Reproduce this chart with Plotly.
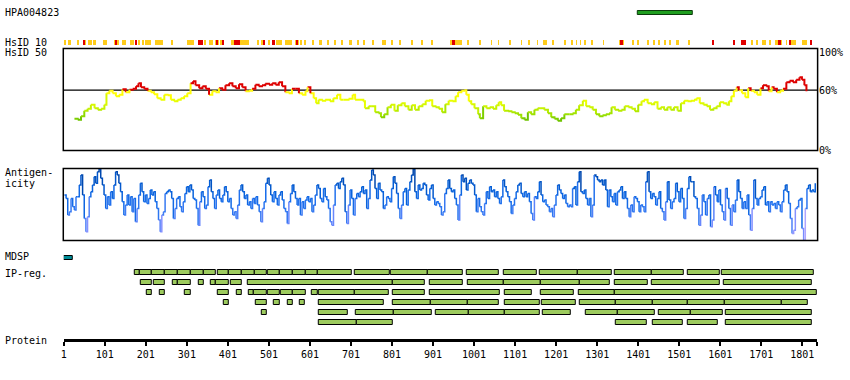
import plotly.graph_objects as go
import numpy as np

W, H = 850, 380
protein_length = 1837
tick_vals = [1, 101, 201, 301, 401, 501, 601, 701, 801, 901, 1001, 1101, 1201, 1301, 1401, 1501, 1601, 1701, 1801]

# HsID 50 : % identity (sliding window)
hsid50_pos = [
    27, 35, 43, 51, 59, 67, 76, 84, 92, 100,
    105, 112, 120, 128, 136, 144, 152, 161, 169, 177,
    183, 189, 197, 205, 213, 221, 229, 237, 246, 254,
    262, 270, 278, 286, 294, 302, 310, 316, 322, 331,
    339, 347, 355, 363, 371, 379, 387, 395, 404, 412,
    420, 428, 436, 444, 452, 460, 468, 476, 484, 492,
    501, 509, 517, 525, 533, 541, 549, 557, 565, 574,
    582, 590, 595, 602, 610, 616, 622, 630, 638, 650,
    658, 667, 675, 683, 695, 705, 711, 723, 731, 735,
    744, 752, 760, 768, 774, 782, 790, 798, 807, 815,
    824, 832, 841, 849, 857, 866, 875, 883, 891, 899,
    907, 915, 923, 931, 939, 948, 956, 962, 970, 977,
    982, 988, 994, 1002, 1011, 1015, 1023, 1031, 1039, 1047,
    1055, 1061, 1067, 1074, 1084, 1092, 1100, 1108, 1116, 1124,
    1132, 1140, 1148, 1156, 1164, 1172, 1181, 1189, 1197, 1205,
    1213, 1221, 1233, 1241, 1249, 1257, 1266, 1274, 1282, 1290,
    1298, 1306, 1314, 1322, 1330, 1336, 1344, 1352, 1360, 1368,
    1377, 1385, 1393, 1401, 1409, 1415, 1424, 1432, 1440, 1448,
    1456, 1464, 1472, 1480, 1488, 1497, 1505, 1513, 1521, 1529,
    1537, 1543, 1551, 1560, 1568, 1576, 1584, 1592, 1600, 1608,
    1616, 1622, 1628, 1634, 1641, 1646, 1654, 1662, 1669, 1675,
    1683, 1691, 1699, 1705, 1713, 1719, 1726, 1731, 1739, 1747,
    1754, 1762, 1770, 1778, 1786, 1794, 1800, 1806, 1811]
hsid50_val = [
    31.5, 30.5, 34, 39.5, 41.5, 45.5, 42, 40.5, 41.5, 45.5,
    57, 59.5, 57, 54, 55.5, 61, 58, 60.5, 61.5, 64,
    67, 63, 61.5, 59.5, 58, 56, 52, 50.5, 55.5, 55,
    50.5, 49, 50.5, 52, 54, 57, 67, 69, 65, 62,
    64, 61.5, 55.5, 59, 58, 62, 60.5, 65, 67, 64,
    62, 66, 63, 59, 59.5, 61.5, 65.5, 64, 65, 66.5,
    65.5, 67, 65.5, 68, 64, 58, 57, 61.5, 61.5, 57,
    55.5, 59, 63, 57, 52, 47, 50.5, 49.5, 50.5, 49,
    52, 55.5, 50.5, 50.5, 51.5, 55.5, 50.5, 50.5, 49, 42,
    44, 44, 38, 37, 33, 36, 43, 45.5, 39.5, 45,
    47, 44, 40.5, 45, 40.5, 44, 46, 49.5, 50, 44,
    43, 41.5, 38, 46, 49.5, 49, 54, 58, 59.5, 60,
    55.5, 49, 46, 42, 36, 32, 44, 42, 43, 41.5,
    45, 48, 45, 39.5, 39, 38, 37, 35.5, 32, 30.5,
    38, 36, 40.5, 42, 42, 40.5, 37, 33, 31.5, 29.5,
    32, 36, 36, 37, 40.5, 45, 49.5, 44, 43, 40.5,
    36, 34, 35, 36, 37, 43, 40.5, 39.5, 40.5, 44,
    43, 41.5, 39, 45.5, 49, 50.5, 47, 46, 48, 41.5,
    43, 40.5, 43, 40.5, 43, 39.5, 47, 49.5, 49, 49.5,
    50.5, 52, 47, 45.5, 44, 40.5, 42, 44, 48, 47,
    45.5, 49, 54, 59.5, 63, 60, 57, 53, 62, 59.5,
    58, 55.5, 62, 65, 64, 59, 63, 61.5, 58, 59.5,
    61.5, 68, 69.5, 68, 70.5, 73, 70.5, 65, 59]

# Antigenicity score, sampled evenly over three stretches of the sequence
antigen_spans = [(2.6, 626), (630, 1233), (1237, 1832.5)]
antigen_a = [
    68, 63, 38, 43, 63, 50.5, 45.5, 65.5, 65.5, 83,
    98, 68, 33, 13, 35.5, 65.5, 73, 83, 95.5, 85.5,
    103, 107, 93, 83, 68, 48, 65.5, 53, 73, 63,
    83, 103, 98, 85.5, 73, 58, 38, 53, 68, 53,
    65.5, 43, 63, 28, 48, 68, 85.5, 73, 58, 68,
    55.5, 63, 75.5, 68, 73, 58, 48, 30.5, 13, 38,
    43, 70.5, 73, 75.5, 73, 63, 33, 48, 63, 65.5,
    50.5, 43, 58, 70.5, 80.5, 73, 83, 75.5, 63, 60.5,
    48, 23, 58, 73, 65.5, 48, 53, 80.5, 90.5, 73,
    63, 48, 68, 75.5, 63, 58, 68, 80.5, 73, 58,
    63, 48, 38, 43, 33, 53, 75.5, 83, 73, 63,
    68, 53, 58, 48, 63, 55.5, 65.5, 53, 43, 28,
    48, 58, 85.5, 93, 83, 68, 58, 73, 63, 53,
    68, 73, 60.5, 48, 43, 25.5, 58, 70.5, 83, 73,
    63, 53, 63, 38, 58, 48, 60.5, 65.5, 58, 63,
    43, 53, 68, 83, 78, 63]
antigen_b = [
    58, 78, 65.5, 60.5, 48, 28, 23, 53, 83, 85.5,
    78, 88, 93, 83, 43, 25.5, 53, 75.5, 63, 38,
    63, 70.5, 65.5, 73, 80.5, 70.5, 75.5, 48, 63, 90.5,
    105.5, 98, 78, 63, 85.5, 75.5, 73, 48, 53, 65.5,
    63, 58, 78, 95.5, 85.5, 70.5, 48, 33, 53, 73,
    78, 53, 75.5, 88, 98, 107, 73, 63, 83, 75.5,
    78, 85.5, 83, 68, 60.5, 78, 83, 63, 53, 58,
    55.5, 50.5, 38, 43, 70.5, 78, 90.5, 78, 73, 75.5,
    63, 53, 30.5, 68, 98, 88, 93, 75.5, 85.5, 90.5,
    85.5, 83, 68, 43, 63, 50.5, 43, 38, 55.5, 73,
    63, 80.5, 73, 75.5, 65.5, 73, 63, 55.5, 65.5, 90.5,
    80.5, 73, 65.5, 58, 40.5, 53, 63, 73, 83, 85.5,
    70.5, 65.5, 73, 65.5, 70.5, 58, 40.5, 30.5, 65.5, 63,
    73, 88, 68, 58, 60.5, 53, 50.5, 43, 48, 35.5,
    53, 68, 83, 75.5, 70.5, 63, 68, 55.5, 50.5, 53]
antigen_c = [
    50.5, 78, 80.5, 53, 88, 103, 73, 70.5, 75.5, 63,
    53, 63, 35.5, 53, 98, 95.5, 90.5, 88, 90.5, 83,
    90.5, 75.5, 50.5, 75.5, 65.5, 58, 70.5, 53, 73, 75.5,
    80.5, 63, 73, 63, 48, 35.5, 53, 43, 65.5, 63,
    58, 43, 53, 50.5, 43, 88, 103, 73, 63, 70.5,
    65.5, 53, 63, 73, 48, 43, 30.5, 58, 88, 60.5,
    48, 58, 63, 85.5, 73, 58, 78, 63, 33, 48,
    78, 95.5, 88, 88, 65.5, 63, 48, 23, 38, 68,
    58, 38, 63, 68, 20.5, 30.5, 80.5, 68, 58, 75.5,
    53, 43, 30.5, 78, 63, 48, 23, 53, 43, 60.5,
    90.5, 73, 63, 48, 58, 48, 68, 38, 15.5, 48,
    90.5, 63, 53, 63, 65.5, 75.5, 80.5, 53, 58, 43,
    58, 53, 55.5, 48, 58, 53, 43, 58, 75.5, 83,
    73, 55.5, 33, 10.5, 15.5, 48, 50.5, 60.5, 63, 18,
    0.5, 48, 78, 83, 73, 75.5, 73, 85.5]

# HsID 10 marks: start, end, level (1 = medium, 2 = high identity)
hsid10_start = [3, 13, 34, 47, 49, 60, 65, 73, 77, 96, 122, 126, 142, 161, 176, 183, 193, 199, 204, 209,
                222, 236, 262, 300, 328, 343, 355, 369, 371, 382, 385, 407, 416, 429, 472, 480, 487, 497, 507, 518,
                540, 565, 567, 577, 588, 607, 623, 644, 661, 678, 696, 717, 731, 753, 776, 799, 819, 848, 872, 896,
                941, 946, 984, 1013, 1042, 1059, 1086, 1115, 1134, 1154, 1169,
                1192, 1221, 1237, 1249, 1259, 1269, 1287, 1315, 1354, 1357, 1387, 1399, 1423, 1437, 1450, 1464, 1476,
                1492, 1521, 1580, 1632, 1650, 1676, 1689, 1701, 1720, 1735, 1742, 1761, 1768, 1773, 1800, 1818]
hsid10_end = [5, 17, 37, 54, 53, 62, 68, 75, 79, 106, 135, 131, 152, 171, 180, 187, 195, 201, 206, 211,
              234, 242, 266, 317, 339, 348, 365, 379, 377, 391, 390, 416, 429, 452, 476, 486, 492, 504, 515, 533,
              557, 574, 570, 582, 590, 609, 630, 646, 663, 680, 703, 719, 733, 755, 786, 801, 821, 850, 874, 898,
              970, 953, 986, 1015, 1044, 1061, 1088, 1117, 1136, 1156, 1177,
              1194, 1223, 1241, 1251, 1261, 1271, 1289, 1317, 1366, 1363, 1389, 1401, 1425, 1439, 1452, 1466, 1478,
              1500, 1527, 1586, 1636, 1662, 1678, 1691, 1711, 1722, 1752, 1749, 1763, 1773, 1786, 1812, 1824]
hsid10_level = [1, 1, 1, 1, 2, 1, 1, 1, 1, 1, 1, 2, 1, 1, 2, 1, 1, 1, 1, 1,
                1, 1, 1, 1, 2, 1, 1, 1, 2, 1, 2, 1, 2, 1, 1, 1, 2, 1, 2, 1,
                1, 1, 2, 1, 1, 1, 1, 1, 1, 1, 1, 1, 1, 1, 1, 1, 1, 1, 1, 1,
                1, 2, 1, 1, 1, 1, 1, 1, 1, 1, 1,
                1, 1, 1, 1, 1, 1, 1, 1, 1, 2, 1, 1, 1, 1, 1, 1, 1,
                1, 1, 2, 2, 2, 1, 1, 1, 1, 1, 2, 1, 2, 1, 1, 2]

# IP-reg. regions: row, start, end
ipreg_row = [0]*27 + [1]*18 + [2]*19 + [3]*17 + [4]*13 + [5]*6
ipreg_start = [
    174, 185, 216, 248, 280, 311, 343, 376, 403, 436, 467, 499, 527, 560, 591, 620, 710, 798, 889, 983, 1073, 1160, 1254, 1343, 1433, 1522, 1605,
    189, 220, 266, 280, 330, 359, 372, 407, 450, 802, 893, 985, 1074, 1164, 1258, 1345, 1435, 1610,
    203, 234, 297, 376, 422, 453, 465, 499, 531, 560, 606, 623, 710, 803, 893, 1075, 1163, 1255, 1344,
    390, 468, 514, 546, 577, 623, 803, 896, 986, 1075, 1165, 1258, 1347, 1436, 1523, 1612, 1752,
    483, 623, 713, 806, 908, 989, 1075, 1168, 1272, 1352, 1452, 1528, 1615,
    623, 715, 1347, 1437, 1522, 1615]
ipreg_end = [
    185, 216, 248, 280, 311, 343, 372, 403, 436, 467, 496, 527, 560, 591, 620, 702, 795, 889, 974, 1062, 1154, 1254, 1336, 1433, 1511, 1600, 1829,
    216, 248, 280, 311, 341, 372, 403, 436, 802, 881, 974, 1074, 1164, 1258, 1331, 1424, 1600, 1824,
    216, 248, 311, 403, 436, 465, 496, 527, 560, 591, 620, 710, 792, 880, 1064, 1142, 1244, 1344, 1837,
    403, 496, 527, 560, 589, 782, 896, 986, 1062, 1161, 1249, 1347, 1436, 1523, 1612, 1752, 1815,
    496, 694, 806, 899, 989, 1075, 1161, 1236, 1352, 1441, 1528, 1608, 1824,
    715, 804, 1421, 1509, 1596, 1824]

mdsp_start, mdsp_end = [1], [22]
hpa_start, hpa_end = [1400], [1534]

FONT = "DejaVu Sans Mono"


def py(pix):  # pixel row -> paper fraction
    return 1 - pix / H


def px(pix):
    return pix / W


def lerp_color(v, stops):
    if v <= stops[0][0]:
        c = stops[0][1]
    elif v >= stops[-1][0]:
        c = stops[-1][1]
    else:
        for (a, ca), (b, cb) in zip(stops[:-1], stops[1:]):
            if a <= v <= b:
                t = (v - a) / (b - a)
                c = tuple(ca[k] + t * (cb[k] - ca[k]) for k in range(3))
                break
    return "rgb(%d,%d,%d)" % tuple(int(round(x)) for x in c)


def hsid_color(v):
    if v > 60.2:
        return "#dd0000"
    q = round(v)
    return lerp_color(q, [(28, (95, 185, 0)), (35, (150, 222, 0)), (42, (198, 242, 0)),
                          (50, (235, 255, 0)), (55, (255, 255, 0)), (60, (255, 248, 20))])


def ag_color(s):
    q = round(s / 5) * 5
    return lerp_color(q, [(0, (175, 165, 255)), (20, (120, 140, 255)), (40, (65, 125, 245)),
                          (60, (25, 110, 235)), (80, (5, 95, 215)), (100, (0, 72, 175))])


fig = go.Figure()


def add_steps(xs, ys, colorfn, width, yaxis):
    groups = {}
    for i in range(len(xs) - 1):
        c = colorfn(ys[i])
        gx, gy = groups.setdefault(c, ([], []))
        gx.extend([xs[i], xs[i + 1], xs[i + 1], None])
        gy.extend([ys[i], ys[i], ys[i + 1], None])
    for c, (gx, gy) in groups.items():
        fig.add_trace(go.Scatter(x=gx, y=gy, mode="lines", xaxis="x", yaxis=yaxis,
                                 line=dict(color=c, width=width), hoverinfo="skip",
                                 showlegend=False, connectgaps=False))


# HsID 50 line
add_steps(hsid50_pos, hsid50_val, hsid_color, 2, "y")

# Antigenicity line
ag_x, ag_y = [], []
for (a, b), vals in zip(antigen_spans, [antigen_a, antigen_b, antigen_c]):
    ag_x.extend(np.linspace(a, b, len(vals)).tolist())
    ag_y.extend(vals)
add_steps(ag_x, ag_y, ag_color, 1.5, "y2")

# track rows (pixel rows on yaxis3)
ROW_HPA, ROW_HSID10, ROW_MDSP, ROW_IP0 = 12.5, 42.5, 258, 272.5


def add_bars(starts, ends, ycenter, width, color, line_color=None, line_width=0):
    fig.add_trace(go.Bar(
        orientation="h", base=starts, x=[e - s for s, e in zip(starts, ends)],
        y=ycenter if isinstance(ycenter, list) else [ycenter] * len(starts),
        width=width, xaxis="x", yaxis="y3",
        marker=dict(color=color, line=dict(color=line_color or color, width=line_width)),
        hoverinfo="skip", showlegend=False))


add_bars(hpa_start, hpa_end, ROW_HPA, 4, "#1f9e1f", "#0b3b0b", 1)
lvl1 = [i for i, l in enumerate(hsid10_level) if l == 1]
lvl2 = [i for i, l in enumerate(hsid10_level) if l == 2]
add_bars([hsid10_start[i] for i in lvl1], [hsid10_end[i] for i in lvl1], ROW_HSID10, 4.4, "#ffcc1a")
add_bars([hsid10_start[i] for i in lvl2], [hsid10_end[i] for i in lvl2], ROW_HSID10, 4.4, "#e00000")
add_bars(mdsp_start, mdsp_end, ROW_MDSP, 4.4, "#008b96", "black", 1)
add_bars(ipreg_start, ipreg_end, [ROW_IP0 + 10 * r for r in ipreg_row], 4.4, "#9dcb5e", "black", 1)

shapes = [
    dict(type="rect", xref="paper", yref="paper", x0=px(60.5), x1=px(817.5), y0=py(150.5), y1=py(48.5),
         line=dict(color="black", width=1.5), fillcolor="rgba(0,0,0,0)", layer="above"),
    dict(type="line", xref="paper", yref="y", x0=px(60.5), x1=px(817.5), y0=60, y1=60,
         line=dict(color="black", width=1.2), layer="below"),
    dict(type="rect", xref="paper", yref="paper", x0=px(60.5), x1=px(817.5), y0=py(240.5), y1=py(168.5),
         line=dict(color="black", width=1.5), fillcolor="rgba(0,0,0,0)", layer="above"),
]

ann = []


def label(text, x, y, anchor="left"):
    ann.append(dict(text=text, xref="paper", yref="paper", x=px(x), y=py(y), xanchor=anchor,
                    yanchor="middle", showarrow=False, font=dict(family=FONT, size=10, color="black")))


label("HPA004823", 0, 12.5)
label("HsID 10", 0, 42.5)
label("HsID 50", 0, 52.7)
label("Antigen-", 0, 172.7)
label("icity", 0, 183.3)
label("MDSP", 0, 256.7)
label("IP-reg.", 0, 273.3)
label("Protein", 0, 340)
label("100%", 817, 52.3)
label("60%", 817, 90.3)
label("0%", 817, 150.3)

fig.update_layout(
    width=W, height=H, margin=dict(l=0, r=0, t=0, b=0, pad=0),
    paper_bgcolor="white", plot_bgcolor="rgba(0,0,0,0)", showlegend=False,
    barmode="overlay", bargap=0,
    xaxis=dict(domain=[61 / W, 817 / W], range=[1, protein_length], anchor="free", position=py(339.5),
               showline=True, linecolor="black", linewidth=3, ticks="outside", ticklen=4, tickwidth=2,
               tickcolor="black", tickmode="array", tickvals=tick_vals + [protein_length],
               ticktext=[str(v) for v in tick_vals] + [""],
               tickfont=dict(family=FONT, size=10, color="black"),
               showgrid=False, zeroline=False, fixedrange=True),
    yaxis=dict(domain=[py(150.5), py(48.5)], range=[-0.3, 101.7], visible=False, fixedrange=True),
    yaxis2=dict(domain=[py(240.5), py(168.5)], range=[0, 107.75], visible=False, fixedrange=True),
    yaxis3=dict(domain=[0, 1], range=[H, 0], visible=False, fixedrange=True),
    shapes=shapes, annotations=ann,
)

fig.write_html("out.html", config={"displayModeBar": False},
               post_script="document.body.style.margin='0px';document.body.style.padding='0px';")
